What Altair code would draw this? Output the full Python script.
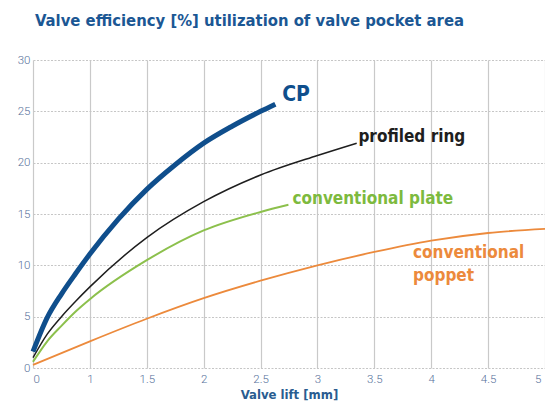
import altair as alt
import pandas as pd

# ---- data ----
x_tick_labels = ["0", "1", "1.5", "2", "2.5", "3", "3.5", "4", "4.5", "5"]
y_ticks = [0, 5, 10, 15, 20, 25, 30]

series_names = ["conventional poppet", "conventional plate", "profiled ring", "CP"]
series_colors = ["#ec8a3c", "#8cc04c", "#1e1e1e", "#0f4e8c"]
series_widths = [1.8, 2.0, 1.5, 5.0]

cp_lift = [0, 0.25, 0.5, 0.75, 1.0, 1.25, 1.5, 1.75, 2.0, 2.25, 2.5, 2.63]
cp_eff = [1.6, 4.9, 7.2, 9.2, 11.1, 14.5, 17.4, 19.8, 21.9, 23.55, 25.0, 25.7]

ring_lift = [0, 0.25, 0.5, 0.75, 1.0, 1.5, 2.0, 2.5, 3.0, 3.345]
ring_eff = [1.0, 3.3, 5.0, 6.5, 7.9, 12.7, 16.2, 18.8, 20.7, 21.9]

plate_lift = [0, 0.25, 0.5, 0.75, 1.0, 1.5, 2.0, 2.5, 2.745]
plate_eff = [0.6, 2.6, 4.1, 5.5, 6.7, 10.5, 13.4, 15.2, 15.9]

poppet_lift = [0, 1.0, 1.5, 2.0, 2.5, 3.0, 3.5, 4.0, 4.5, 5.0]
poppet_eff = [0.3, 2.6, 4.8, 6.8, 8.5, 10.0, 11.3, 12.4, 13.15, 13.55]

label_texts = ["CP", "profiled ring", "conventional plate", "conventional\npoppet"]
label_lift = [2.69, 3.36, 2.78, 3.84]
label_eff = [26.6, 22.5, 16.5, 11.2]
label_colors = ["#0f4e8c", "#1e1e1e", "#7dba3e", "#ec8a3c"]
label_sizes = [21, 17, 17, 17]

series_data = {
    "CP": (cp_lift, cp_eff),
    "profiled ring": (ring_lift, ring_eff),
    "conventional plate": (plate_lift, plate_eff),
    "conventional poppet": (poppet_lift, poppet_eff),
}

FONT = "Liberation Sans Narrow, DejaVu Sans Condensed, Roboto Condensed, Roboto, sans-serif"
LABEL_ARR = "[" + ",".join("'" + t + "'" for t in x_tick_labels) + "]"
LAST = len(x_tick_labels) - 1
POS_EXPR = "datum.lift <= 1 ? datum.lift : 2 * datum.lift - 1"

x_enc = alt.X(
    "pos:Q",
    scale=alt.Scale(domain=[0, LAST], nice=False, zero=False),
    axis=alt.Axis(
        values=list(range(len(x_tick_labels))),
        labelExpr=LABEL_ARR + "[datum.value]",
        labelOffset=alt.ExprRef("datum.value == %d ? -4 : 0" % LAST),
        title="Valve lift  [mm]",
        titleFont=FONT, titleFontSize=13, titleFontWeight="bold", titleColor="#2a5c90",
        titlePadding=4,
        labelFont="Roboto", labelFontSize=11.5, labelFontWeight=300, labelColor="#56709a",
        labelPadding=5,
        ticks=False, domain=False,
        grid=True, gridColor="#c9c9c9", gridWidth=1.2,
    ),
)
y_enc = alt.Y(
    "eff:Q",
    scale=alt.Scale(domain=[0, 30], nice=False),
    axis=alt.Axis(
        values=y_ticks, title=None,
        labelFont="Roboto", labelFontSize=11.5, labelFontWeight=300, labelColor="#56709a",
        labelPadding=3, ticks=False, domain=False,
        grid=True, gridColor="#c6c6c6", gridDash=[2, 1.5], gridWidth=1,
    ),
)

layers = []
for name, color, width in zip(series_names, series_colors, series_widths):
    lx, ly = series_data[name]
    df = pd.DataFrame({"lift": lx, "eff": ly})
    layers.append(
        alt.Chart(df)
        .transform_calculate(pos=POS_EXPR)
        .mark_line(color=color, strokeWidth=width, interpolate="monotone")
        .encode(x=x_enc, y=y_enc)
    )

for txt, lx, ly, col, sz in zip(label_texts, label_lift, label_eff, label_colors, label_sizes):
    df = pd.DataFrame({"lift": [lx], "eff": [ly], "txt": [txt]})
    layers.append(
        alt.Chart(df)
        .transform_calculate(pos=POS_EXPR)
        .mark_text(align="left", baseline="middle", font=FONT, fontSize=sz,
                   fontWeight="bold", color=col, lineBreak="\n", lineHeight=23)
        .encode(x="pos:Q", y="eff:Q", text="txt:N")
    )

chart = (
    alt.layer(*layers)
    .properties(
        width=512, height=308,
        autosize=alt.AutoSizeParams(type="none"),
        padding={"left": 25, "top": 52, "right": 0, "bottom": 36},
        title=alt.TitleParams(
            "Valve efficiency [%] utilization of valve pocket area",
            anchor="start", frame="group", font=FONT, fontSize=16.5,
            fontWeight="bold", color="#1b5794", offset=25, dx=2,
        ),
    )
    .configure_view(stroke=None)
)

chart.save("out.html", embed_options={"renderer": "svg", "actions": False})
